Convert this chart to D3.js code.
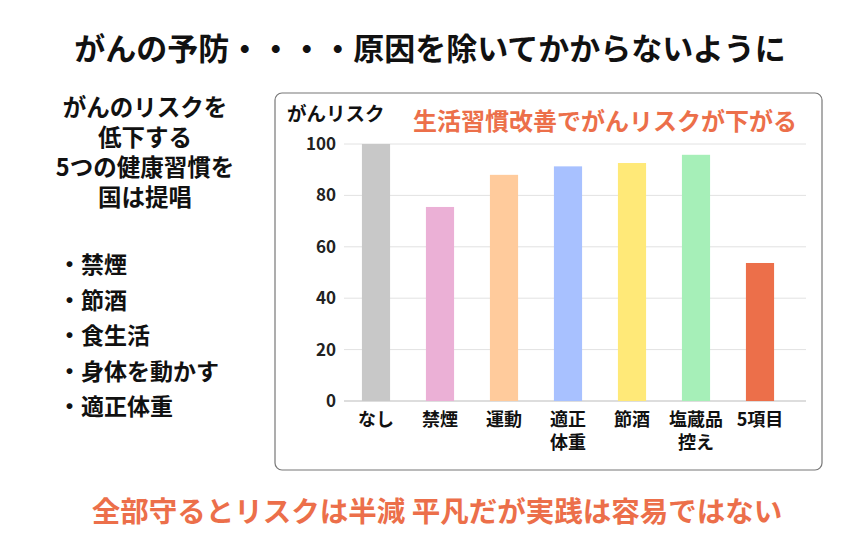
<!DOCTYPE html>
<html><head><meta charset="utf-8">
<script src="https://cdn.jsdelivr.net/npm/d3@7"></script>
<style>body{margin:0;background:#fff}text{font-family:"Noto Sans CJK JP",sans-serif;font-weight:700}</style>
</head><body><svg id="c" width="860" height="560"></svg>
<script>
const categories = [["なし"],["禁煙"],["運動"],["適正","体重"],["節酒"],["塩蔵品","控え"],["5項目"]];
const values = [100, 75.5, 88, 91.3, 92.6, 95.8, 53.7];
const colors = ["#c8c8c8","#ebb0d6","#ffcb9c","#a8c1ff","#ffe978","#a6efb8","#ec6f4a"];
const yTicks = [0,20,40,60,80,100];
const leftLines = ["がんのリスクを","低下する","5つの健康習慣を","国は提唱"];
const habits = ["・禁煙","・節酒","・食生活","・身体を動かす","・適正体重"];

const svg = d3.select("#c");
svg.append("text").attr("x",430).attr("y",60).attr("text-anchor","middle").attr("font-size",31).attr("fill","#111").text("がんの予防・・・・原因を除いてかからないように");
leftLines.forEach((t,i)=>svg.append("text").attr("x",145).attr("y",116+i*30).attr("text-anchor","middle").attr("font-size",23.5).attr("fill","#111").text(t));
habits.forEach((t,i)=>svg.append("text").attr("x",58).attr("y",273+i*35.5).attr("font-size",23).attr("fill","#111").text(t));
svg.append("rect").attr("x",275).attr("y",93).attr("width",547).attr("height",377).attr("rx",7).attr("fill","#fff").attr("stroke","#777").attr("stroke-width",1.2);

const x = d3.scaleBand().domain(d3.range(values.length)).range([344,792]).paddingInner(0.56).paddingOuter(0.28);
const y = d3.scaleLinear().domain([0,100]).range([401,144]);
const g = svg.append("g");
yTicks.forEach(t=>{
  g.append("line").attr("x1",344).attr("x2",806).attr("y1",y(t)).attr("y2",y(t)).attr("stroke",t===0?"#bbb":"#e2e2e2").attr("stroke-width",1);
  g.append("text").attr("x",336).attr("y",y(t)+6).attr("text-anchor","end").attr("font-size",17).attr("font-weight",500).attr("fill","#222").text(t);
});
g.selectAll("rect.b").data(values).enter().append("rect").attr("x",(d,i)=>x(i)).attr("width",x.bandwidth()).attr("y",d=>y(d)).attr("height",d=>y(0)-y(d)).attr("fill",(d,i)=>colors[i]);
categories.forEach((c,i)=>c.forEach((t,j)=>g.append("text").attr("x",x(i)+x.bandwidth()/2).attr("y",426+j*23).attr("text-anchor","middle").attr("font-size",18).attr("fill","#111").text(t)));
svg.append("text").attr("x",287).attr("y",121).attr("font-size",19.5).attr("fill","#111").text("がんリスク");
svg.append("text").attr("x",605).attr("y",130).attr("text-anchor","middle").attr("font-size",24).attr("fill","#ec6f4a").text("生活習慣改善でがんリスクが下がる");
svg.append("text").attr("x",437).attr("y",522).attr("text-anchor","middle").attr("font-size",28.5).attr("fill","#ec6f4a").text("全部守るとリスクは半減 平凡だが実践は容易ではない");
</script></body></html>
